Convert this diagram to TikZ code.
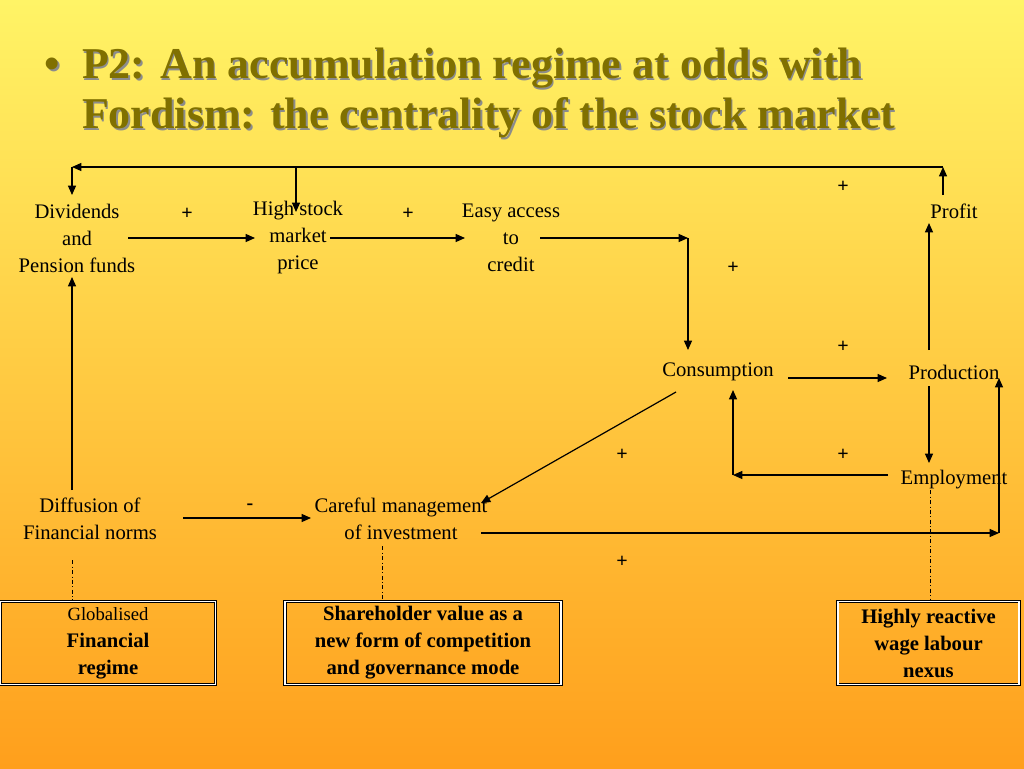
\documentclass[tikz,border=0pt]{standalone}
\usepackage{fontspec}
\setmainfont{Liberation Serif}
\usetikzlibrary{arrows.meta}
\definecolor{topc}{HTML}{FFF466}
\definecolor{botc}{HTML}{FF9F1C}
\definecolor{olive}{HTML}{807000}
\begin{document}
\begin{tikzpicture}[x=0.75pt,y=-0.75pt,
  lbl/.style={font=\fontsize{15.5}{20.25}\selectfont,align=center,inner sep=1pt},
  sgn/.style={font=\fontsize{15}{18}\selectfont\bfseries},
  arr/.style={-{Triangle[length=7pt,width=6pt]},line width=0.9pt},
  ln/.style={line width=0.9pt},
  dd/.style={dash dot,line width=0.6pt},
  bx/.style={draw,double,double distance=1.2pt,line width=0.6pt,minimum height=62pt,align=center,font=\fontsize{14}{20.25}\selectfont,inner sep=2pt}]
\shade[top color=topc,bottom color=botc] (0,0) rectangle (1024,768);
\useasboundingbox (0,0) rectangle (1024,768);
% title
\foreach \c/\d in {black!45/1.5,olive/0}{
\node[anchor=west,text=\c,font=\fontsize{33}{37.5}\selectfont\bfseries,align=left] at (40+\d,93+\d)
 {\textbullet\ \ P2: An accumulation regime at odds with\\\hphantom{\textbullet\ \ }Fordism: the centrality of the stock market};}
% nodes
\node[lbl] (div) at (77,238) {Dividends\\and\\Pension funds};
\node[lbl] (hsm) at (298,238) {High stock\\market\\price};
\node[lbl] (eac) at (511,238) {Easy access\\to\\credit};
\node[lbl] (pro) at (954,211) {Profit};
\node[lbl] (con) at (718,372) {Consumption};
\node[lbl] (prd) at (954,372) {Production};
\node[lbl] (emp) at (954,480) {Employment};
\node[lbl] (dif) at (90,519) {Diffusion of\\Financial norms};
\node[lbl] (car) at (401,519) {Careful management\\of investment};
\node[bx,minimum width=161pt] (b1) at (108,643) {Globalised\\\textbf{\fontsize{15.5}{20}\selectfont Financial}\\\textbf{\fontsize{15.5}{20}\selectfont regime}};
\node[bx,minimum width=207pt] (b2) at (423,643) {\bfseries\fontsize{15.5}{20}\selectfont Shareholder value as a\\\bfseries\fontsize{15.5}{20}\selectfont new form of competition\\\bfseries\fontsize{15.5}{20}\selectfont and governance mode};
\node[bx,minimum width=136pt] (b3) at (928.5,643) {\bfseries\fontsize{15.5}{20}\selectfont Highly reactive\\\bfseries\fontsize{15.5}{20}\selectfont wage labour\\\bfseries\fontsize{15.5}{20}\selectfont nexus};
% coordinates
\coordinate (tr) at (943,167); \coordinate (tl) at (72,167); \coordinate (tm) at (296,167);
\coordinate (pt) at (943,195);
\coordinate (e1) at (540,238); \coordinate (e2) at (688,238); \coordinate (e3) at (688,350);
\coordinate (m1) at (888,475); \coordinate (m2) at (733,475); \coordinate (m3) at (733,390);
\coordinate (i1) at (481,533); \coordinate (i2) at (999,533); \coordinate (i3) at (999,378);
% arrows
\draw[arr] (pt) -- (tr);
\draw[arr] (tr) -- (tl);
\draw[arr] (tl) -- (72,195);
\draw[arr] (tm) -- (296,212);
\draw[arr] (128,238) -- (255,238);
\draw[arr] (330,238) -- (465,238);
\draw[arr] (e1) -- (e2);
\draw[arr] (e2) -- (e3);
\draw[arr] (788,378) -- (887,378);
\draw[arr] (929,350) -- (929,223);
\draw[arr] (929,386) -- (929,463);
\draw[arr] (m1) -- (m2);
\draw[arr] (m2) -- (m3);
\draw[arr] (676,392) -- (481,503);
\draw[arr] (183,518) -- (311,518);
\draw[arr] (i1) -- (i2);
\draw[arr] (i2) -- (i3);
\draw[arr] (72,490) -- (72,277);
\draw[dd] (72,560) -- (b1.north -| 72,0);
\draw[dd] (382,546) -- (b2.north -| 382,0);
\draw[dd] (930,490) -- (b3.north -| 930,0);
% signs
\foreach \x/\y in {187/214,408/214,843/187,733/268,843/347,622/455,843/455,622/562}
  \node[sgn] at (\x,\y) {+};
\node[sgn] at (250,507) {-};
\end{tikzpicture}
\end{document}
